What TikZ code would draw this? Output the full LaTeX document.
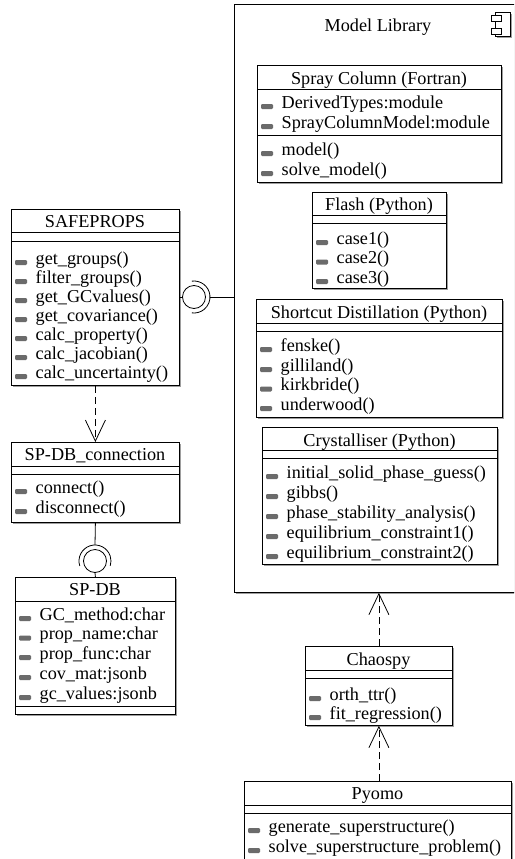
\documentclass[tikz,border=0pt]{standalone}
\usepackage{fontspec}
\setmainfont{Liberation Serif}
\usetikzlibrary{arrows.meta}
\definecolor{shadowc}{gray}{0.62}
\definecolor{iconc}{gray}{0.42}
\newcounter{tn}
\tikzset{
  boxst/.style={draw=black, fill=white, line width=0.8pt, inner sep=0pt},
  divst/.style={line width=0.8pt},
  conn/.style={line width=0.8pt},
  ttlst/.style={anchor=mid, inner sep=0pt, font=\fontsize{18.2}{20}\selectfont},
  attrst/.style={anchor=mid west, inner sep=0pt, font=\fontsize{18.2}{20}\selectfont},
  dep/.style={line width=0.8pt, dash pattern=on 7pt off 4pt,
    -{Straight Barb[length=21pt,width=20pt,line width=0.8pt]}},
  ballst/.style={circle, draw, line width=0.8pt, minimum size=23pt, inner sep=0pt, fill=white},
}
\newcommand\umlbox[5]{%
  \fill[shadowc] (#2+2,#3+2) rectangle (#4+2,#5+2);
  \node[boxst, minimum width={#4pt-#2pt}, minimum height={#5pt-#3pt}, anchor=north west] (#1) at (#2,#3) {};}
\newcommand\divider[3]{\draw[divst] (#1,#3) -- (#2,#3);}
\newcommand\ttl[3]{\stepcounter{tn}\node[ttlst] (t\arabic{tn}) at (#1,#2+4.5) {#3};}
\newcommand\attr[3]{\stepcounter{tn}%
  \fill[iconc, rounded corners=1.2pt] (#1+4,#2+1) rectangle (#1+16,#2+6);
  \node[attrst] (t\arabic{tn}) at (#1+24.5,#2+3) {#3};}
\begin{document}
\begin{tikzpicture}[x=1pt, y=-1pt]
\useasboundingbox (0,0) rectangle (514,859);
\clip (0,0) rectangle (514,859);
\fill[white] (0,0) rectangle (514,859);

% ---- Model Library package
\fill[shadowc] (236,6) rectangle (530,594);
\node[boxst, minimum width=296pt, minimum height=588pt, anchor=north west] (lib) at (234,4) {};
\node[ttlst] (libtitle) at (378,29.5) {Model Library};
\fill[shadowc] (497,14) rectangle (512,38);
\draw[line width=0.8pt, fill=white] (495,12) rectangle (510,36);
\draw[line width=0.8pt, fill=white] (491,15) rectangle (501,21);
\draw[line width=0.8pt, fill=white] (491,28) rectangle (501,34);

% ---- Spray Column
\umlbox{spray}{257}{65}{501}{182}
\ttl{379}{77.5}{Spray Column (Fortran)}
\divider{257}{501}{89}
\attr{257}{103}{DerivedTypes:module}
\attr{257}{123}{SprayColumnModel:module}
\divider{257}{501}{135}
\attr{257}{150}{model()}
\attr{257}{170}{solve\_model()}

% ---- Flash
\umlbox{flash}{312}{192}{446}{288}
\ttl{379}{204}{Flash (Python)}
\divider{312}{446}{215}
\divider{312}{446}{223}
\attr{312}{239}{case1()}
\attr{312}{258.5}{case2()}
\attr{312}{278}{case3()}

% ---- Shortcut Distillation
\umlbox{shortcut}{256}{299}{502}{417}
\ttl{379}{311.5}{Shortcut Distillation (Python)}
\divider{256}{502}{323}
\divider{256}{502}{331}
\attr{256}{346}{fenske()}
\attr{256}{366}{gilliland()}
\attr{256}{385.5}{kirkbride()}
\attr{256}{405}{underwood()}

% ---- Crystalliser
\umlbox{cryst}{262}{427}{497}{564}
\ttl{379.5}{439.5}{Crystalliser (Python)}
\divider{262}{497}{450}
\divider{262}{497}{458}
\attr{262}{473}{initial\_solid\_phase\_guess()}
\attr{262}{493}{gibbs()}
\attr{262}{513}{phase\_stability\_analysis()}
\attr{262}{533}{equilibrium\_constraint1()}
\attr{262}{553}{equilibrium\_constraint2()}

% ---- SAFEPROPS
\umlbox{safeprops}{11}{209}{179}{385}
\ttl{95}{221}{SAFEPROPS}
\divider{11}{179}{232}
\divider{11}{179}{241}
\attr{11}{259}{get\_groups()}
\attr{11}{278}{filter\_groups()}
\attr{11}{297}{get\_GCvalues()}
\attr{11}{316}{get\_covariance()}
\attr{11}{335}{calc\_property()}
\attr{11}{354}{calc\_jacobian()}
\attr{11}{373}{calc\_uncertainty()}

% ---- SP-DB_connection
\umlbox{spdbconn}{11}{442}{179}{522}
\ttl{95}{454}{SP-DB\_connection}
\divider{11}{179}{466}
\divider{11}{179}{474}
\attr{11}{488}{connect()}
\attr{11}{508}{disconnect()}

% ---- SP-DB
\umlbox{spdb}{15}{577}{175}{714}
\ttl{95}{589}{SP-DB}
\divider{15}{175}{601}
\attr{15}{615}{GC\_method:char}
\attr{15}{634.5}{prop\_name:char}
\attr{15}{654}{prop\_func:char}
\attr{15}{674}{cov\_mat:jsonb}
\attr{15}{694}{gc\_values:jsonb}
\divider{15}{175}{706}

% ---- Chaospy
\umlbox{chaospy}{305}{646}{452}{725}
\ttl{378.5}{658.5}{Chaospy}
\divider{305}{452}{670}
\divider{305}{452}{678}
\attr{305}{695}{orth\_ttr()}
\attr{305}{714}{fit\_regression()}

% ---- Pyomo
\umlbox{pyomo}{244}{781}{511}{875}
\ttl{377.5}{793}{Pyomo}
\divider{244}{511}{805}
\divider{244}{511}{813}
\attr{244}{827}{generate\_superstructure()}
\attr{244}{847}{solve\_superstructure\_problem()}

% ---- lollipop SAFEPROPS -- Model Library
\node[ballst] (ball1) at (194,297) {};
\coordinate (sock1) at ([xshift=16pt]ball1.center);
\draw[conn] (safeprops.east |- ball1.center) -- (ball1.west);
\draw[conn] ([shift={(98:16pt)}]ball1.center) arc[start angle=98, end angle=-98, radius=16pt];
\draw[conn] (sock1) -- (sock1 -| lib.west);

% ---- lollipop SP-DB_connection -- SP-DB
\node[ballst] (ball2) at (95,561) {};
\coordinate (sock2) at ([yshift=16pt]ball2.center);
\draw[conn] (spdbconn.south) -- (sock2);
\draw[conn] ([shift={(198:16pt)}]ball2.center) arc[start angle=198, end angle=-18, radius=16pt];
\draw[conn] (ball2.south) -- (spdb.north);

% ---- dependencies
\draw[dep] (safeprops.south) -- (spdbconn.north);
\draw[dep] (chaospy.north) -- (chaospy.north |- lib.south);
\draw[dep] (chaospy.south |- pyomo.north) -- (chaospy.south);
\end{tikzpicture}
\end{document}
